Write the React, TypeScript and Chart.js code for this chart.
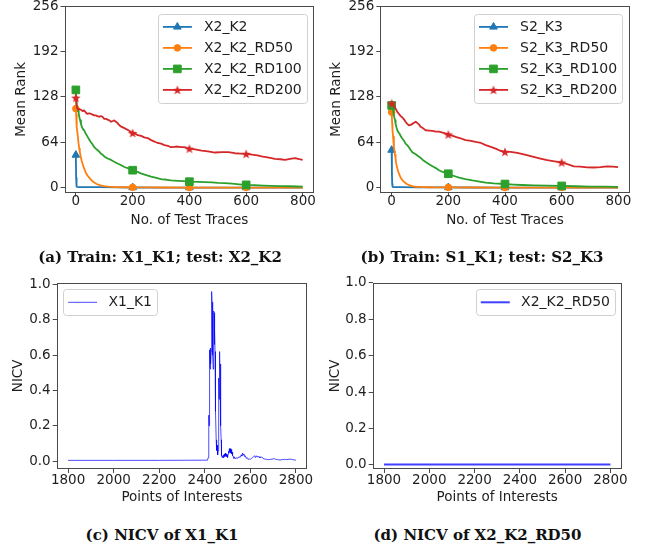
import React, { useEffect, useRef } from "react";
import { Chart, registerables } from "chart.js";
import { drawPoint } from "chart.js/helpers";
Chart.register(...registerables);

// ---------------- data ----------------
const rankTicks = [0, 64, 128, 192, 256];
const traceTicks = [0, 200, 400, 600, 800];
const markerTraces = [0, 200, 400, 600];
const poiTicks = [1800, 2000, 2200, 2400, 2600, 2800];
const nicvTicks = [0, 0.2, 0.4, 0.6, 0.8, 1.0];

const seriesColors = ["#1f77b4", "#ff7f0e", "#2ca02c", "#d62728"];

// (a) Train: X1_K1; test: X2_K2
const aNames = ["X2_K2", "X2_K2_RD50", "X2_K2_RD100", "X2_K2_RD200"];
const aBaseX = [0, 1, 2, 3, 5, 10, 30, 80, 150, 200, 300, 400, 600, 799];
const aBaseY = [46, 14, 4, 1.5, 0.9, 0.7, 0.6, 0.5, 0.3, 0.1, 0, 0, 0, 0];
const aRd50X = [0, 1, 2, 4, 6, 9, 12, 14, 17, 20, 25, 29, 35, 41, 47, 53, 60, 65, 73, 82, 90, 100, 112, 124, 140, 160, 200, 250, 300, 400, 500, 600, 700, 799];
const aRd50Y = [111.5, 103, 95, 85, 76, 64, 55, 50, 44, 38.6, 32, 27, 21, 17, 14, 11, 8.5, 7, 5, 3.8, 2.8, 1.9, 1.3, 1, 0.6, 0.4, 0.3, 0.2, 0.1, 0, 0, 0, 0, 0];
const aRd100X = [0, 1, 2, 4, 6, 8, 10, 12, 15, 18, 22, 26, 29, 35, 41, 47, 53, 59, 65, 70, 76, 82, 88, 94, 100, 112, 124, 135, 147, 160, 171, 185, 200, 215, 229, 245, 265, 280, 300, 320, 335, 360, 380, 400, 430, 455, 480, 500, 525, 550, 575, 600, 630, 660, 690, 720, 750, 780, 799];
const aRd100Y = [138, 128, 122, 116, 112, 109, 105, 100, 95, 90, 85, 82, 81, 76, 72, 68, 64, 61, 57, 55, 53, 51, 48, 46.5, 44, 41, 39, 36.5, 34, 31.5, 29, 27, 24.5, 22.5, 20, 18, 15.5, 14, 12, 11, 10, 9.5, 9, 8.3, 8, 7.8, 7.2, 6.6, 6.2, 5.5, 4.6, 3.8, 3.3, 2.8, 2.4, 2, 1.8, 1.5, 1.4];
const aRd200X = [0, 2, 5, 8, 12, 18, 24, 29, 35, 41, 47, 53, 59, 65, 70, 76, 82, 88, 94, 100, 106, 112, 118, 124, 130, 135, 141, 147, 153, 160, 171, 185, 200, 210, 218, 230, 241, 253, 265, 277, 288, 300, 312, 324, 335, 347, 359, 370, 382, 390, 400, 420, 443, 465, 490, 515, 537, 560, 580, 600, 620, 640, 654, 670, 685, 701, 720, 737, 755, 772, 787, 799];
const aRd200Y = [127, 118, 112, 110, 111, 110, 108, 109, 106, 104, 105, 104, 103, 102, 102, 101, 100, 101, 100, 97, 97, 96, 95, 93, 94, 95, 93, 91, 88, 86, 84, 81, 77, 76, 74, 73, 71, 70, 67, 65, 63, 62, 60, 59, 57, 57.5, 58, 57, 57, 56, 55, 54, 52.3, 51, 49.5, 50, 50, 48.5, 48, 47.5, 46.5, 45.5, 44, 43, 42, 40.6, 40, 39, 40.5, 41.5, 40, 39];

// (b) Train: S1_K1; test: S2_K3
const bNames = ["S2_K3", "S2_K3_RD50", "S2_K3_RD100", "S2_K3_RD200"];
const bBaseX = [0, 1, 2, 3, 5, 10, 30, 100, 200, 250, 400, 600, 799];
const bBaseY = [53, 20, 5, 1.5, 0.8, 0.6, 0.5, 0.3, 0.2, 0.1, 0, 0, 0];
const bRd50X = [0, 1, 2, 3, 5, 8, 10, 12, 14, 16, 20, 24, 28, 32, 38, 44, 50, 55, 60, 67, 73, 80, 88, 96, 110, 130, 160, 200, 300, 400, 500, 600, 700, 799];
const bRd50Y = [106.5, 98, 90, 82, 71.5, 57, 51, 46, 40, 34, 27, 22, 17.5, 14, 10.5, 8, 6, 4.7, 3.8, 2.7, 1.9, 1.4, 1.1, 0.9, 0.6, 0.4, 0.3, 0.2, 0.1, 0, 0, 0, 0, 0];
const bRd100X = [0, 2, 5, 7, 9, 12, 14, 17, 20, 24, 28, 33, 38, 44, 49, 55, 61, 67, 73, 79, 85, 93, 102, 110, 120, 132, 144, 156, 167, 180, 200, 215, 238, 260, 285, 310, 332, 360, 400, 430, 460, 500, 550, 600, 650, 700, 750, 799];
const bRd100Y = [116, 112, 109, 104, 100, 95, 90, 85, 81, 78, 76, 72, 69, 66, 62, 60, 57, 53, 50, 48.5, 47, 44.5, 42, 39, 36, 33, 30, 27.5, 24.5, 22, 19.5, 17, 14, 12, 10, 8.5, 7, 5.8, 5, 4.2, 3.6, 3, 2.6, 2.3, 1.8, 1.4, 1.2, 1.0];
const bRd200X = [0, 4, 8, 14, 20, 26, 32, 38, 44, 49, 55, 61, 67, 73, 79, 85, 91, 97, 102, 110, 120, 132, 144, 156, 167, 180, 200, 213, 226, 240, 261, 280, 296, 315, 332, 350, 367, 383, 400, 420, 443, 470, 501, 525, 549, 575, 600, 620, 643, 665, 690, 713, 737, 760, 780, 799];
const bRd200Y = [119, 118, 116, 111.5, 107, 104, 101, 99, 96, 93, 90, 88, 88.5, 90, 91.5, 93, 91, 89, 86, 84, 81, 80.5, 80, 79, 79, 77.5, 75, 73.5, 71.5, 70, 67, 66, 64.5, 63, 60, 57.5, 55, 52, 50.5, 50.5, 49, 46.5, 43.3, 41, 38.6, 37, 35.4, 33, 30, 29.5, 28.5, 28.3, 29, 30, 29.5, 29];

// (c) NICV of X1_K1
const cName = "X1_K1";
const cPoiX = [1800, 2000, 2200, 2412, 2415, 2417, 2418, 2419, 2420, 2421, 2422, 2423, 2424, 2425, 2426, 2427, 2428, 2429, 2430, 2431, 2432, 2433, 2434, 2435, 2436, 2437, 2438, 2439, 2440, 2441, 2442, 2443, 2444, 2445, 2446, 2448, 2450, 2451, 2452, 2453, 2454, 2455, 2456, 2457, 2458, 2459, 2460, 2461, 2462, 2463, 2464, 2465, 2466, 2467, 2468, 2469, 2470, 2471, 2472, 2473, 2474, 2476, 2478, 2480, 2482, 2484, 2486, 2488, 2490, 2492, 2494, 2496, 2498, 2500, 2502, 2504, 2506, 2508, 2510, 2512, 2514, 2516, 2518, 2520, 2522, 2525, 2528, 2532, 2536, 2540, 2545, 2550, 2555, 2560, 2563, 2566, 2569, 2572, 2575, 2578, 2582, 2586, 2590, 2595, 2600, 2605, 2610, 2614, 2618, 2622, 2626, 2630, 2634, 2638, 2642, 2646, 2650, 2655, 2660, 2670, 2680, 2690, 2700, 2705, 2710, 2720, 2730, 2740, 2750, 2760, 2770, 2780, 2790, 2800];
const cNicv = [0.004, 0.004, 0.004, 0.005, 0.02, 0.12, 0.26, 0.2, 0.45, 0.6, 0.63, 0.53, 0.63, 0.52, 0.64, 0.55, 0.62, 0.8, 0.92, 0.96, 0.9, 0.82, 0.76, 0.7, 0.6, 0.52, 0.55, 0.75, 0.85, 0.84, 0.72, 0.66, 0.74, 0.62, 0.45, 0.28, 0.12, 0.07, 0.1, 0.06, 0.09, 0.05, 0.08, 0.04, 0.035, 0.06, 0.2, 0.32, 0.47, 0.35, 0.5, 0.58, 0.62, 0.45, 0.55, 0.3, 0.42, 0.2, 0.12, 0.06, 0.03, 0.02, 0.03, 0.02, 0.035, 0.02, 0.04, 0.025, 0.045, 0.03, 0.04, 0.025, 0.035, 0.02, 0.04, 0.055, 0.045, 0.07, 0.05, 0.07, 0.045, 0.065, 0.04, 0.05, 0.03, 0.025, 0.015, 0.02, 0.012, 0.02, 0.015, 0.025, 0.02, 0.035, 0.028, 0.045, 0.035, 0.04, 0.025, 0.03, 0.015, 0.02, 0.01, 0.012, 0.01, 0.015, 0.02, 0.025, 0.03, 0.02, 0.03, 0.022, 0.028, 0.02, 0.026, 0.018, 0.024, 0.015, 0.012, 0.01, 0.008, 0.01, 0.012, 0.014, 0.01, 0.008, 0.006, 0.008, 0.01, 0.008, 0.011, 0.01, 0.007, 0.005];

// (d) NICV of X2_K2_RD50
const dName = "X2_K2_RD50";
const dPoiX = [1800, 2000, 2200, 2400, 2600, 2800];
const dNicv = [0.003, 0.003, 0.003, 0.003, 0.003, 0.003];

const captions = [
  "(a) Train: X1_K1; test: X2_K2",
  "(b) Train: S1_K1; test: S2_K3",
  "(c) NICV of X1_K1",
  "(d) NICV of X2_K2_RD50",
];

// ---------------- styling helpers ----------------
const FONT = "'DejaVu Sans', sans-serif";
const FSIZE = 13.5;
const LEGEND_FSIZE = 14;
const TXT = "#1e1e1e";
const AXIS = "#4a4a4a";

function starMarker(color: string, r: number) {
  const c = document.createElement("canvas");
  const s = Math.ceil(2 * r + 2);
  c.width = s;
  c.height = s;
  const g = c.getContext("2d")!;
  g.translate(s / 2, s / 2 + r * 0.1);
  g.beginPath();
  for (let k = 0; k < 10; k++) {
    const rr = k % 2 === 0 ? r : r * 0.42;
    const ang = -Math.PI / 2 + (k * Math.PI) / 5;
    if (k === 0) g.moveTo(rr * Math.cos(ang), rr * Math.sin(ang));
    else g.lineTo(rr * Math.cos(ang), rr * Math.sin(ang));
  }
  g.closePath();
  g.fillStyle = color;
  g.fill();
  return c;
}

type LegendItem = { label: string; color: string; lineWidth: number; style?: any; radius?: number };
type LegendSpec = { items: LegendItem[]; corner: "tr" | "tl"; insetX: number; insetY: number; h0: number; h1: number; textX: number };

const frameLegendPlugin = {
  id: "frameLegend",
  afterDraw(chart: any, _args: any, opts: any) {
    const { ctx, chartArea: a } = chart;
    ctx.save();
    ctx.strokeStyle = AXIS;
    ctx.lineWidth = 1;
    const L = Math.round(a.left) + 0.5, T = Math.round(a.top) + 0.5;
    const R = Math.round(a.right) - 0.5, B = Math.round(a.bottom) - 0.5;
    ctx.strokeRect(L, T, R - L, B - T);
    const lg: LegendSpec = opts.legend;
    if (lg) {
      ctx.font = `${LEGEND_FSIZE}px ${FONT}`;
      const tw = Math.max(...lg.items.map((it) => ctx.measureText(it.label).width));
      const w = lg.textX + tw + 5;
      const h = 26 + (lg.items.length - 1) * 21;
      const x = lg.corner === "tr" ? a.right - lg.insetX - w : a.left + lg.insetX;
      const y = a.top + lg.insetY;
      ctx.beginPath();
      (ctx as any).roundRect(Math.round(x) + 0.5, Math.round(y) + 0.5, Math.round(w), Math.round(h), 3);
      ctx.fillStyle = "rgba(255,255,255,0.8)";
      ctx.fill();
      ctx.strokeStyle = "#d0d0d0";
      ctx.stroke();
      lg.items.forEach((it, i) => {
        const cy = y + 13 + i * 21;
        ctx.beginPath();
        ctx.strokeStyle = it.color;
        ctx.lineWidth = it.lineWidth;
        ctx.moveTo(x + lg.h0, cy);
        ctx.lineTo(x + lg.h1, cy);
        ctx.stroke();
        if (it.style) {
          ctx.fillStyle = it.color;
          ctx.strokeStyle = it.color;
          ctx.lineWidth = 1;
          drawPoint(ctx, { pointStyle: it.style, radius: it.radius, rotation: 0, borderWidth: 1 } as any, x + (lg.h0 + lg.h1) / 2, cy);
        }
        ctx.fillStyle = TXT;
        ctx.textAlign = "left";
        ctx.textBaseline = "middle";
        ctx.fillText(it.label, x + lg.textX, cy + 0.5);
      });
    }
    ctx.restore();
  },
};

type Frame = {
  padTop: number; padRight: number; yW: number; xH: number;
  yTitlePad: number; xTitlePad: number; xLabelPad: number;
};

function makeConfig(p: {
  datasets: any[]; frame: Frame; legend: LegendSpec;
  xMin: number; xMax: number; xTicks: number[]; xFmt: (v: number) => string; xTitle: string;
  yMin: number; yMax: number; yTicks: number[]; yFmt: (v: number) => string; yTitle: string;
}): any {
  const f = p.frame;
  const font = { family: FONT, size: FSIZE };
  const grid = { display: true, drawOnChartArea: false, drawTicks: true, tickLength: 4, color: AXIS, lineWidth: 1 };
  return {
    type: "line",
    data: { datasets: p.datasets },
    plugins: [frameLegendPlugin],
    options: {
      responsive: false,
      animation: false,
      events: [],
      layout: { padding: { top: f.padTop, right: f.padRight, left: 0, bottom: 0 } },
      plugins: {
        legend: { display: false },
        tooltip: { enabled: false },
        frameLegend: { legend: p.legend },
      },
      scales: {
        x: {
          type: "linear",
          min: p.xMin,
          max: p.xMax,
          grid,
          border: { display: false },
          afterBuildTicks: (s: any) => { s.ticks = p.xTicks.map((v) => ({ value: v })); },
          afterFit: (s: any) => { s.height = f.xH; s.paddingLeft = 0; s.paddingRight = 0; },
          ticks: { font, color: TXT, padding: f.xLabelPad, maxRotation: 0, autoSkip: false, callback: (v: number) => p.xFmt(v) },
          title: { display: true, text: p.xTitle, font, color: TXT, padding: { top: 0, bottom: f.xTitlePad } },
        },
        y: {
          type: "linear",
          min: p.yMin,
          max: p.yMax,
          grid,
          border: { display: false },
          afterBuildTicks: (s: any) => { s.ticks = p.yTicks.map((v) => ({ value: v })); },
          afterFit: (s: any) => { s.width = f.yW; s.paddingTop = 0; s.paddingBottom = 0; },
          ticks: { font, color: TXT, padding: 2, autoSkip: false, callback: (v: number) => p.yFmt(v) },
          title: { display: true, text: p.yTitle, font, color: TXT, padding: { top: f.yTitlePad, bottom: 0 } },
        },
      },
    },
  };
}

function rankDataset(name: string, xs: number[], ys: number[], color: string, style: any, radius: number, order: number) {
  return {
    label: name,
    data: xs.map((x, i) => ({ x, y: ys[i] })),
    borderColor: color,
    backgroundColor: color,
    borderWidth: 1.8,
    borderJoinStyle: "round",
    pointStyle: style,
    pointRadius: (ctx: any) => (ctx.raw && markerTraces.includes(ctx.raw.x) ? radius : 0),
    pointBorderWidth: 1,
    pointBorderColor: color,
    pointBackgroundColor: color,
    tension: 0,
    order,
    clip: false,
  };
}

function rankChart(names: string[], xs: number[][], ys: number[][], frame: Frame) {
  const star = starMarker(seriesColors[3], 5);
  const styles: any[] = ["triangle", "circle", "rect", star];
  const radii = [4.4, 3.3, 5.4, 5];
  const datasets = names.map((n, i) => rankDataset(n, xs[i], ys[i], seriesColors[i], styles[i], radii[i], 4 - i));
  const legend: LegendSpec = {
    items: names.map((n, i) => ({ label: n, color: seriesColors[i], lineWidth: 1.8, style: styles[i], radius: radii[i] })),
    corner: "tr", insetX: 7.6, insetY: 7.5, h0: 5, h1: 34, textX: 46,
  };
  return makeConfig({
    datasets, frame, legend,
    xMin: -40, xMax: 840, xTicks: traceTicks, xFmt: (v) => String(v), xTitle: "No. of Test Traces",
    yMin: -7, yMax: 256, yTicks: rankTicks, yFmt: (v) => String(v), yTitle: "Mean Rank",
  });
}

function nicvChart(name: string, xs: number[], ys: number[], color: string, lw: number, frame: Frame, corner: "tr" | "tl", yMin: number, yMax: number) {
  const datasets = [{
    label: name,
    data: xs.map((x, i) => ({ x, y: ys[i] })),
    borderColor: color,
    borderWidth: lw,
    pointRadius: 0,
    tension: 0,
    borderJoinStyle: "round",
  }];
  const legend: LegendSpec = {
    items: [{ label: name, color, lineWidth: lw }],
    corner, insetX: 6.7, insetY: 6.6, h0: 4.7, h1: 33.7, textX: 45,
  };
  return makeConfig({
    datasets, frame, legend,
    xMin: 1750, xMax: 2850, xTicks: poiTicks, xFmt: (v) => String(v), xTitle: "Points of Interests",
    yMin, yMax, yTicks: nicvTicks, yFmt: (v) => v.toFixed(1), yTitle: "NICV",
  });
}

function ChartCanvas(props: { left: number; top: number; width: number; height: number; make: () => any }) {
  const ref = useRef<HTMLCanvasElement>(null);
  useEffect(() => {
    const chart = new Chart(ref.current!, props.make());
    return () => chart.destroy();
  }, []);
  return (
    <canvas
      ref={ref}
      width={props.width}
      height={props.height}
      style={{ position: "absolute", left: props.left, top: props.top, width: props.width, height: props.height }}
    />
  );
}

function Caption(props: { text: string; left: number; width: number; top: number }) {
  return (
    <div
      style={{
        position: "absolute", left: props.left, top: props.top, width: props.width,
        textAlign: "center", fontFamily: "'DejaVu Serif', serif", fontWeight: "bold",
        fontSize: 15, lineHeight: "18px", color: "#111", whiteSpace: "nowrap",
      }}
    >
      {props.text}
    </div>
  );
}

export default function App() {
  const frameA: Frame = { padTop: 5.5, padRight: 10.7, yW: 64.5, xH: 47.5, yTitlePad: 12.9, xTitlePad: 11.9, xLabelPad: -3.5 };
  const frameB: Frame = { padTop: 5.5, padRight: 20.3, yW: 55.3, xH: 47.5, yTitlePad: 3.6, xTitlePad: 11.9, xLabelPad: -3.5 };
  const frameC: Frame = { padTop: 22.7, padRight: 17.7, yW: 56.7, xH: 41, yTitlePad: 10.2, xTitlePad: 4.6, xLabelPad: -1.1 };
  const frameD: Frame = { padTop: 22.7, padRight: 28.3, yW: 47.7, xH: 41, yTitlePad: 1.9, xTitlePad: 4.6, xLabelPad: -1.1 };
  return (
    <div style={{ position: "fixed", left: 0, top: 0, width: 650, height: 550, background: "#fff", overflow: "hidden" }}>
      <ChartCanvas left={0} top={0} width={325} height={240}
        make={() => rankChart(aNames, [aBaseX, aRd50X, aRd100X, aRd200X], [aBaseY, aRd50Y, aRd100Y, aRd200Y], frameA)} />
      <ChartCanvas left={325} top={0} width={325} height={240}
        make={() => rankChart(bNames, [bBaseX, bRd50X, bRd100X, bRd200X], [bBaseY, bRd50Y, bRd100Y, bRd200Y], frameB)} />
      <ChartCanvas left={0} top={260} width={325} height={250}
        make={() => nicvChart(cName, cPoiX, cNicv, "rgba(0,0,255,0.7)", 1, frameC, "tl", -0.045, 1.01)} />
      <ChartCanvas left={325} top={260} width={325} height={250}
        make={() => nicvChart(dName, dPoiX, dNicv, "rgba(0,0,255,0.75)", 2, frameD, "tr", -0.022, 1.0)} />
      <Caption text={captions[0]} left={0} width={320} top={248} />
      <Caption text={captions[1]} left={325} width={314} top={248} />
      <Caption text={captions[2]} left={0} width={324} top={526} />
      <Caption text={captions[3]} left={325} width={305} top={526} />
    </div>
  );
}
